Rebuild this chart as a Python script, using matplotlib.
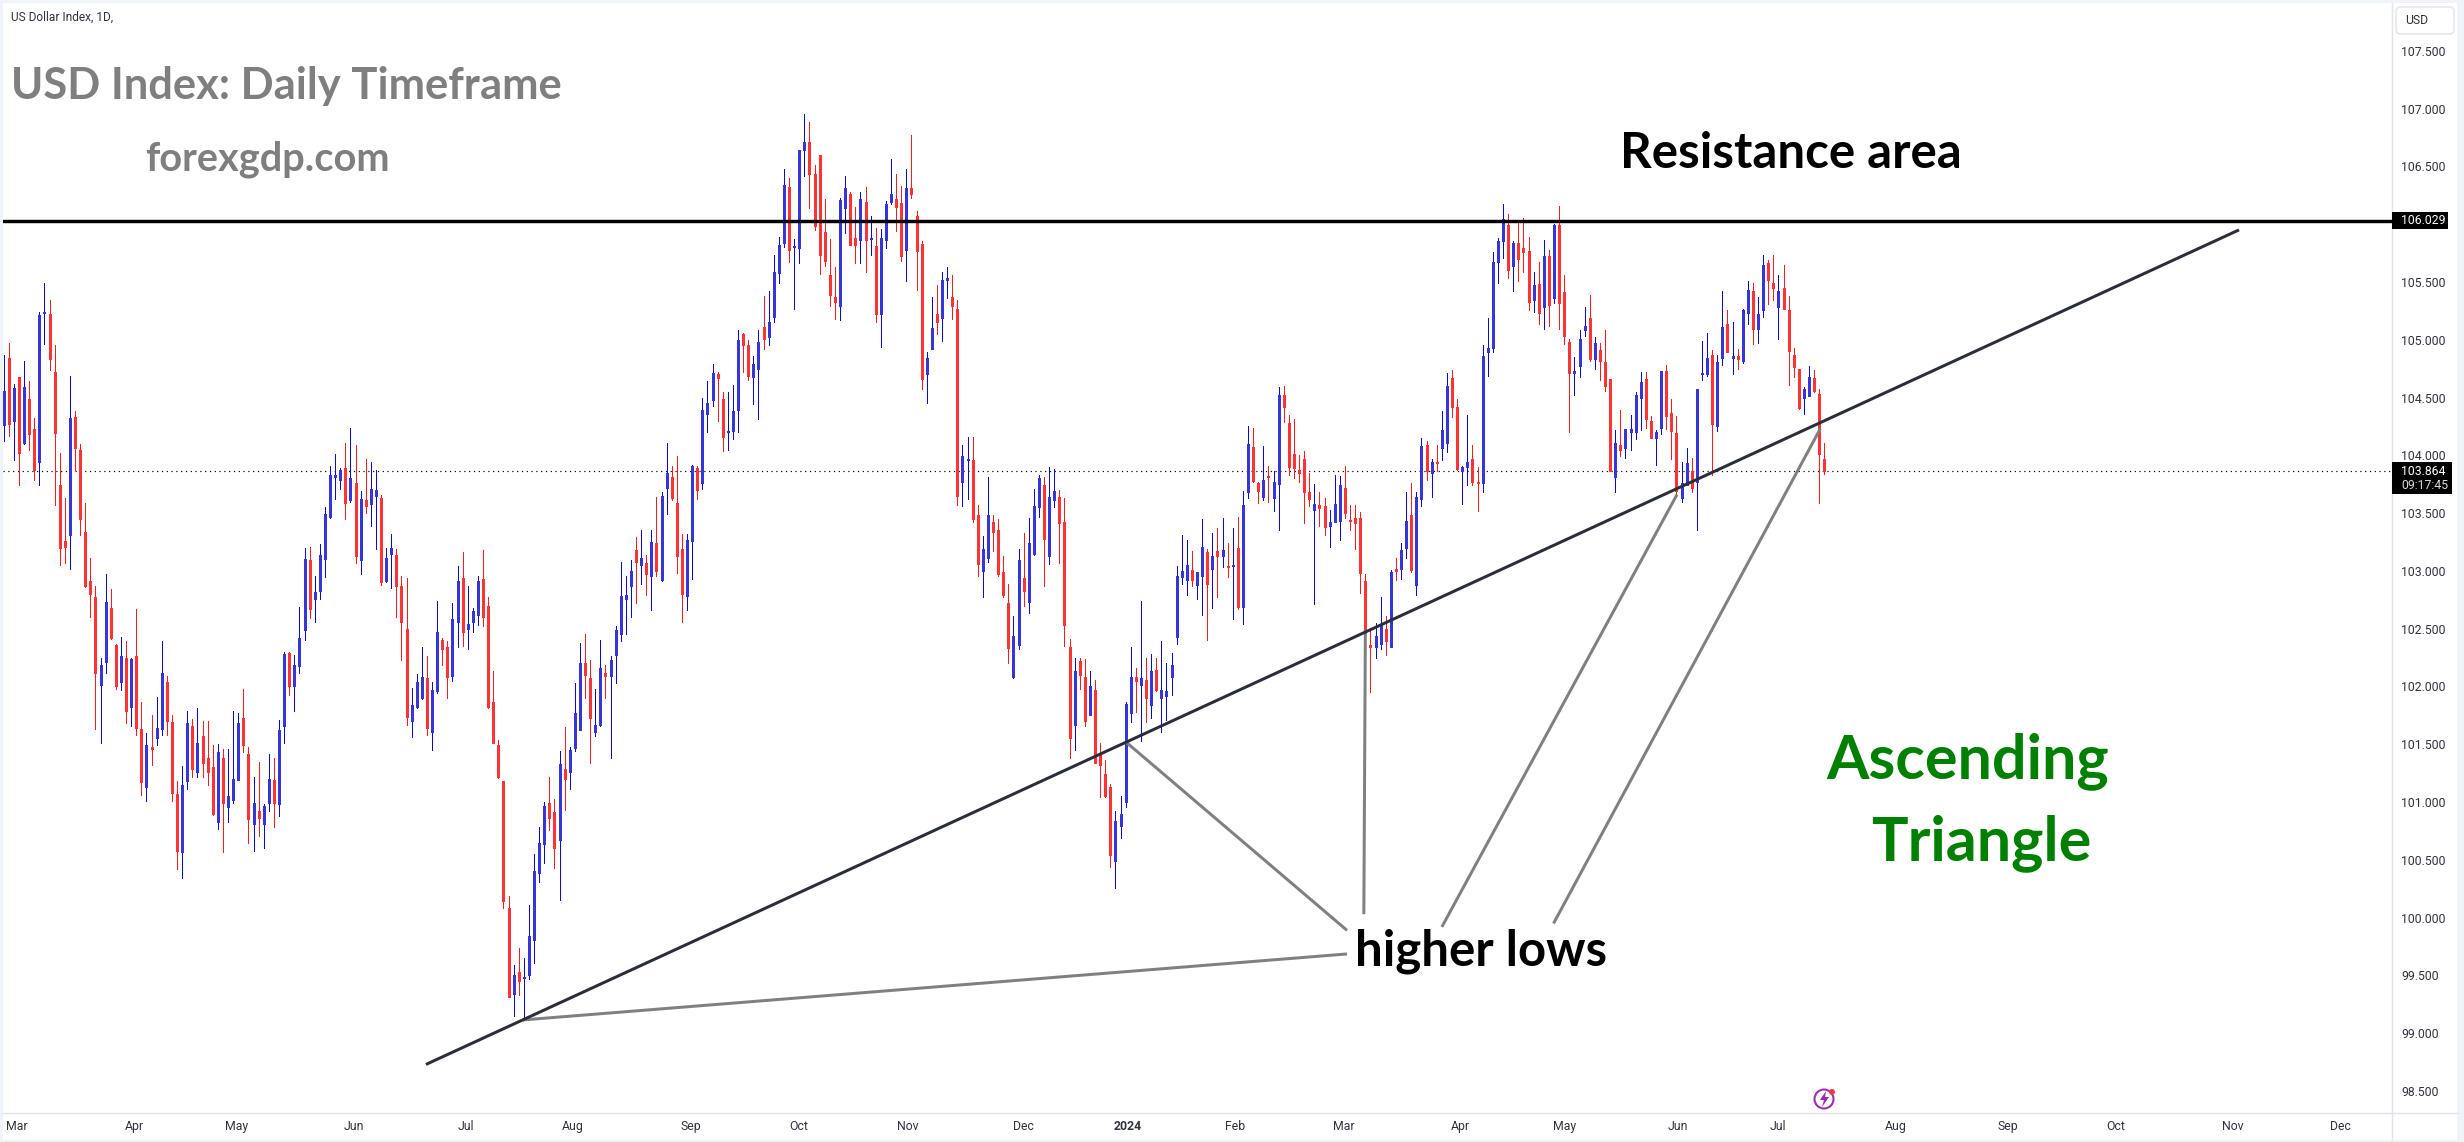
import matplotlib
matplotlib.use("Agg")
import matplotlib.pyplot as plt
import numpy as np
from matplotlib.patches import Rectangle, FancyBboxPatch, Circle, Polygon

# daily candles, one entry per session
highs = [
    104.87,104.97,104.62,104.68,104.82,104.64,104.32,105.24,105.49,105.34,
    104.95,104.02,103.63,104.69,104.38,104.10,103.59,103.11,102.87,102.25,
    102.97,102.84,102.37,102.43,102.39,102.25,102.67,101.87,101.60,101.75,
    101.91,102.39,102.09,101.75,101.18,101.31,101.79,101.72,101.81,101.70,
    101.70,101.49,101.50,101.46,101.46,101.79,101.77,101.98,101.48,101.22,
    101.35,100.98,101.42,101.38,101.71,102.30,102.30,102.27,102.69,103.20,
    103.21,102.96,103.23,103.55,103.91,104.01,103.89,104.11,104.24,104.09,
    103.69,103.97,103.94,103.87,103.66,103.20,103.32,103.19,102.96,102.94,
    101.99,102.11,102.34,102.26,102.04,102.74,102.42,102.39,102.72,103.04,
    103.16,102.87,102.68,102.96,103.18,102.77,102.13,101.54,101.18,100.19,
    99.59,99.74,99.65,100.11,100.55,100.78,101.00,101.22,101.03,101.44,
    101.65,101.48,102.03,102.38,102.45,102.23,101.98,102.40,102.19,102.26,
    102.52,103.08,102.96,103.09,103.29,103.35,103.14,103.35,103.64,103.68,
    104.11,103.91,103.99,103.32,103.32,103.92,103.91,104.50,104.64,104.79,
    104.72,104.55,104.55,104.61,105.08,105.06,105.00,104.86,105.08,105.38,
    105.42,105.73,105.89,106.48,106.40,105.87,106.64,106.95,106.88,106.51,
    106.60,106.22,105.87,105.63,106.23,106.42,106.28,106.15,106.28,106.32,
    106.07,105.97,105.96,106.20,106.56,106.43,106.33,106.48,106.77,106.11,
    105.85,104.89,105.37,105.47,105.59,105.63,105.56,105.34,104.09,104.16,
    104.16,103.57,103.30,103.81,103.48,103.45,103.13,102.89,102.61,103.19,
    103.33,103.46,103.71,103.83,103.81,103.90,103.88,103.70,103.63,102.41,
    102.25,102.25,102.24,102.13,102.06,101.51,101.36,101.16,100.92,101.05,
    101.87,102.34,102.16,102.74,102.25,102.28,102.25,102.39,102.20,102.29,
    103.04,103.31,103.27,103.17,102.99,103.45,103.19,103.33,103.37,103.46,
    103.24,103.37,103.47,103.69,104.25,104.24,103.77,104.08,103.91,103.86,
    104.59,104.60,104.35,104.31,104.00,104.04,103.85,103.75,103.68,103.63,
    103.53,103.83,103.82,103.91,103.57,103.57,103.51,102.97,102.51,102.55,
    102.77,102.61,103.01,103.11,103.24,103.68,103.76,103.68,104.15,104.12,
    103.97,104.09,104.38,104.71,104.74,104.49,103.91,104.35,104.09,103.90,
    104.95,105.19,105.76,105.88,106.17,106.09,105.85,106.03,106.05,105.89,
    105.59,105.67,105.86,105.78,106.00,106.16,105.56,105.01,104.85,105.08,
    105.28,105.39,105.02,104.97,105.08,104.66,104.22,104.39,104.23,104.35,
    104.55,104.72,104.72,104.34,104.22,104.73,104.78,104.49,104.34,103.94,
    104.06,103.98,104.57,104.99,105.06,104.91,104.87,105.42,105.26,105.15,
    104.92,105.27,105.51,105.49,105.37,105.73,105.69,105.73,105.56,105.65,
    105.38,104.93,104.75,104.59,104.77,104.74,104.57,104.11,
]
body_tops = [
    104.56,104.84,104.58,104.68,104.59,104.49,104.23,105.21,105.24,105.22,
    104.72,103.74,103.26,104.32,104.33,104.05,103.34,102.91,102.77,102.19,
    102.73,102.68,102.36,102.26,102.25,102.24,102.26,101.63,101.49,101.48,
    101.64,102.12,102.04,101.69,101.07,101.15,101.68,101.66,101.51,101.57,
    101.38,101.30,101.43,101.38,101.05,101.20,101.68,101.73,101.42,100.99,
    100.92,100.97,101.20,101.19,101.62,102.28,102.29,102.19,102.42,103.10,
    103.09,102.82,103.14,103.49,103.83,103.83,103.87,103.89,103.80,103.76,
    103.62,103.61,103.71,103.70,103.63,103.11,103.20,103.14,102.87,102.50,
    101.84,102.04,102.08,102.07,101.97,102.47,102.40,102.34,102.58,102.91,
    102.94,102.54,102.65,102.91,102.93,102.70,101.87,101.49,101.18,100.08,
    99.50,99.53,99.49,99.84,100.40,100.65,100.97,100.99,100.91,101.33,
    101.29,101.45,101.77,102.20,102.20,102.07,101.67,102.16,102.12,102.23,
    102.49,102.78,102.79,103.00,103.18,103.11,103.07,103.25,103.24,103.65,
    103.85,103.81,103.59,103.19,103.27,103.91,103.89,104.39,104.45,104.71,
    104.70,104.49,104.21,104.38,105.00,105.05,104.95,104.79,104.98,105.11,
    105.15,105.59,105.82,106.34,106.32,105.81,106.64,106.71,106.71,106.43,
    106.60,105.93,105.56,105.37,106.21,106.31,106.26,105.88,106.22,106.19,
    105.88,105.81,105.88,106.17,106.26,106.22,106.18,106.31,106.31,106.07,
    105.83,104.84,105.10,105.22,105.52,105.53,105.37,105.27,103.99,103.97,
    103.96,103.48,103.19,103.48,103.42,103.35,102.99,102.72,102.44,103.09,
    102.94,103.24,103.56,103.80,103.74,103.64,103.69,103.64,103.42,102.34,
    102.13,102.22,102.08,102.00,101.97,101.42,101.24,101.13,100.84,100.90,
    101.85,102.08,102.08,102.07,102.06,102.13,102.14,101.97,101.96,102.19,
    102.96,103.00,103.05,103.01,102.99,103.21,103.16,103.13,103.17,103.18,
    103.04,103.05,103.20,103.57,104.10,104.07,103.76,103.79,103.82,103.77,
    104.52,104.52,104.28,104.01,103.87,103.97,103.68,103.58,103.57,103.56,
    103.42,103.58,103.74,103.72,103.44,103.46,103.46,102.91,102.36,102.44,
    102.53,102.50,102.99,103.02,103.18,103.43,103.48,103.64,104.08,104.09,
    103.94,103.94,104.22,104.60,104.67,104.42,103.90,103.94,103.97,103.77,
    104.86,104.93,105.67,105.85,106.04,105.99,105.84,105.84,105.79,105.77,
    105.47,105.48,105.72,105.72,105.99,105.99,105.41,104.98,104.73,105.01,
    105.12,105.19,104.97,104.91,104.81,104.66,104.11,104.09,104.23,104.23,
    104.52,104.63,104.66,104.30,104.20,104.73,104.73,104.37,104.19,103.76,
    103.93,103.86,104.57,104.71,104.84,104.87,104.81,105.11,105.14,104.86,
    104.86,105.26,105.43,105.42,105.22,105.65,105.66,105.49,105.42,105.45,
    105.26,104.87,104.75,104.57,104.68,104.67,104.53,103.97,
]
body_bottoms = [
    104.26,104.27,104.30,104.02,104.11,104.18,103.87,103.94,105.23,104.83,
    104.19,103.20,103.21,103.31,104.06,103.45,102.87,102.80,102.12,102.01,
    102.21,102.42,102.00,102.04,101.79,101.82,101.64,101.17,101.13,101.46,
    101.55,101.63,101.70,101.08,100.58,100.57,101.18,101.29,101.26,101.34,
    101.26,100.90,100.83,100.99,100.96,101.02,101.19,101.49,100.85,100.81,
    100.86,100.81,100.99,100.99,100.98,101.66,102.00,102.00,102.18,102.49,
    102.67,102.76,102.83,103.10,103.47,103.81,103.79,103.59,103.61,103.13,
    103.09,103.56,103.58,103.65,102.90,102.91,103.15,102.87,102.56,101.74,
    101.70,101.82,101.90,101.64,101.61,101.96,102.32,102.08,102.09,102.56,
    102.47,102.50,102.56,102.62,102.60,101.82,101.51,101.22,100.14,99.31,
    99.34,99.45,99.48,99.50,99.81,100.39,100.64,100.86,100.60,100.67,
    101.20,101.26,101.47,101.62,102.10,101.73,101.61,101.67,102.09,102.09,
    102.27,102.45,102.76,102.87,103.08,103.05,102.97,102.96,103.00,102.92,
    103.72,103.63,103.13,102.80,102.78,103.26,103.70,103.76,104.36,104.48,
    104.67,104.16,104.20,104.21,104.39,104.95,104.69,104.68,104.75,105.01,
    105.02,105.20,105.58,105.84,105.78,105.80,105.79,106.64,106.43,105.98,
    105.73,105.68,105.39,105.33,105.29,106.14,105.82,105.82,105.86,105.86,
    105.87,105.22,105.22,105.86,106.19,106.15,105.72,105.78,106.26,105.77,
    104.66,104.70,104.92,105.15,105.19,105.52,105.29,103.65,103.77,103.96,
    103.45,103.06,103.00,103.11,103.34,102.97,102.79,102.33,102.08,102.36,
    102.83,102.73,103.15,103.55,103.28,103.13,103.61,103.41,102.53,101.55,
    101.67,102.10,101.70,101.75,101.34,101.32,101.05,100.54,100.49,100.79,
    101.00,101.77,102.05,102.01,101.90,101.84,101.97,101.90,101.92,102.08,
    102.43,102.95,102.92,102.92,102.88,102.96,102.89,103.02,103.13,103.13,
    103.03,103.04,102.69,102.69,103.68,103.78,103.69,103.64,103.81,103.63,
    103.75,104.42,103.90,103.89,103.85,103.68,103.62,103.53,103.54,103.38,
    103.39,103.42,103.43,103.50,103.43,103.41,102.98,102.49,102.34,102.34,
    102.37,102.39,102.34,103.00,103.02,103.20,103.01,102.88,103.62,103.86,
    103.85,103.93,104.06,104.11,104.42,103.88,103.86,103.90,103.77,103.76,
    103.76,104.89,104.93,105.67,105.85,105.60,105.64,105.70,105.76,105.33,
    105.34,105.23,105.28,105.30,105.36,105.32,105.03,104.71,104.71,104.77,
    105.08,104.83,104.83,104.82,104.60,103.86,103.81,104.05,104.06,104.20,
    104.20,104.50,104.31,104.15,104.15,104.24,104.34,104.21,103.69,103.63,
    103.74,103.72,103.77,104.70,104.70,104.27,104.25,104.84,104.89,104.84,
    104.83,104.82,105.23,105.09,105.09,105.26,105.52,105.45,105.28,105.27,
    104.90,104.76,104.41,104.50,104.51,104.56,104.01,103.864,
]
lows = [
    104.12,104.17,103.96,103.74,104.10,104.05,103.79,103.74,104.96,104.74,
    103.57,103.05,103.07,103.02,103.87,103.31,102.86,102.60,101.63,101.51,
    102.12,102.41,101.98,101.97,101.68,101.66,101.58,101.06,101.01,101.32,
    101.49,101.58,101.58,101.01,100.42,100.34,101.11,101.22,101.22,101.22,
    101.15,100.89,100.77,100.57,100.83,100.99,101.19,101.43,100.65,100.58,
    100.71,100.60,100.92,100.78,100.88,101.51,101.93,101.79,102.12,102.40,
    102.59,102.56,102.76,102.95,103.46,103.62,103.71,103.45,103.60,103.07,
    102.97,103.50,103.39,103.19,102.88,102.90,102.85,102.60,102.23,101.67,
    101.56,101.81,101.89,101.58,101.45,101.94,102.19,101.90,102.05,102.34,
    102.35,102.32,102.47,102.53,102.52,101.81,101.51,101.21,100.08,99.31,
    99.15,99.33,99.13,99.47,99.61,100.31,100.47,100.76,100.43,100.15,
    100.93,101.11,101.44,101.62,101.90,101.34,101.57,101.66,101.90,101.38,
    102.03,102.39,102.45,102.60,102.72,102.89,102.79,102.66,102.96,102.91,
    103.49,103.61,102.98,102.56,102.66,102.93,103.62,103.71,104.20,104.43,
    104.30,104.04,104.05,104.14,104.20,104.72,104.65,104.44,104.31,104.92,
    104.95,105.15,105.49,105.80,105.67,105.27,105.66,106.42,106.14,105.95,
    105.57,105.64,105.29,105.18,105.17,105.92,105.82,105.66,105.66,105.59,
    105.73,105.15,104.94,105.79,106.17,105.94,105.68,105.51,106.23,105.43,
    104.57,104.45,104.92,105.05,104.99,105.36,105.18,103.57,103.56,103.62,
    103.42,102.96,102.77,103.08,103.17,102.96,102.77,102.20,102.07,102.32,
    102.70,102.64,103.14,103.47,102.87,103.06,103.55,103.07,102.35,101.38,
    101.45,101.98,101.66,101.75,101.34,101.04,101.04,100.44,100.26,100.69,
    100.96,101.69,101.78,101.53,101.69,101.73,101.96,101.61,101.71,101.93,
    102.37,102.89,102.79,102.87,102.76,102.62,102.40,102.68,102.77,103.03,
    102.95,102.58,102.67,102.54,103.63,103.77,103.59,103.61,103.60,103.52,
    103.35,104.29,103.83,103.80,103.77,103.41,103.56,102.71,103.39,103.31,
    103.21,103.42,103.27,103.46,103.35,103.19,102.81,102.48,101.95,102.25,
    102.32,102.27,102.34,102.92,102.93,103.11,102.99,102.79,103.56,103.79,
    103.64,103.86,103.96,104.03,104.33,103.87,103.58,103.74,103.74,103.52,
    103.68,104.69,104.89,105.49,105.71,105.53,105.42,105.51,105.59,105.26,
    105.24,105.14,105.09,105.12,105.32,105.09,104.96,104.20,104.52,104.68,
    105.03,104.82,104.75,104.65,104.56,103.86,103.68,103.99,103.98,104.05,
    104.14,104.22,104.24,104.15,103.92,104.18,104.23,103.97,103.66,103.60,
    103.74,103.68,103.35,104.65,104.69,103.83,104.21,104.78,104.89,104.70,
    104.75,104.80,105.14,104.96,104.97,105.20,105.31,105.34,105.01,105.27,
    104.61,104.68,104.40,104.36,104.51,104.55,103.59,103.84,
]
# True where the session closed above its open
rising = [
    1,0,1,0,1,0,0,1,1,0,
    0,0,0,1,0,0,0,0,0,1,
    1,0,0,1,0,1,0,0,1,0,
    1,1,0,0,0,1,1,0,1,0,
    0,0,1,0,1,1,1,0,0,1,
    0,1,1,0,1,1,0,1,1,1,
    0,1,1,1,1,1,1,0,1,0,
    1,0,1,1,0,1,1,0,0,0,
    1,1,1,0,1,1,0,0,1,1,
    0,1,1,1,0,0,0,0,0,0,
    1,0,1,1,1,1,1,0,0,1,
    0,1,1,1,0,0,1,1,0,1,
    1,1,1,1,0,1,0,1,0,1,
    1,0,0,0,1,1,0,1,1,1,
    0,0,1,1,1,0,0,1,1,0,
    1,1,1,1,0,1,1,1,0,0,
    0,0,0,0,1,1,0,0,1,0,
    1,0,1,1,1,0,0,1,0,0,
    0,1,1,0,1,1,0,0,1,1,
    0,0,1,1,0,0,0,0,1,1,
    0,1,1,1,0,1,1,0,0,0,
    1,0,0,1,0,0,0,0,1,1,
    1,1,0,1,0,1,0,1,1,1,
    1,1,1,0,1,1,0,1,0,1,
    0,1,0,1,1,0,0,1,0,1,
    1,0,0,0,0,0,0,1,0,0,
    1,1,1,0,0,0,0,0,0,1,
    1,0,1,0,1,1,0,1,1,0,
    1,0,1,1,0,0,1,1,0,0,
    1,1,1,1,1,0,1,0,0,0,
    1,0,1,0,1,0,0,0,1,1,
    1,0,1,0,0,0,1,0,1,1,
    1,1,0,0,1,1,0,0,0,1,
    1,0,1,1,1,0,1,1,0,1,
    0,1,1,0,1,1,0,0,1,0,
    0,0,0,1,1,0,0,0,
]

price_ticks = [107.5, 107, 106.5, 105.5, 105, 104.5, 104, 103.5, 103, 102.5,
               102, 101.5, 101, 100.5, 100, 99.5, 99, 98.5]
month_pos = [2.6, 25.6, 45.6, 68.7, 90.7, 111.6, 134.8, 155.8, 177.3, 199.9, 220.3,
             241.5, 262.8, 285.6, 306, 328.3, 347.9, 371, 393, 414.2, 437.1, 458.1]
month_labels = ["Mar", "Apr", "May", "Jun", "Jul", "Aug", "Sep", "Oct", "Nov", "Dec", "2024",
                "Feb", "Mar", "Apr", "May", "Jun", "Jul", "Aug", "Sep", "Oct", "Nov", "Dec"]

resistance = 106.029
countdown = "09:17:45"
trend_x = [82.8, 438.3]
trend_y = [98.73, 105.95]
# pointers from the "higher lows" label to the touches of the trend line
pointers = [
    ([101.8, 263.4], [99.115, 99.686]),
    ([220.2, 263.4], [101.514, 99.89]),
    ([267.0, 266.7], [102.49, 100.03]),
    ([328.1, 282.0], [103.66, 99.92]),
    ([356.2, 303.9], [104.23, 99.95]),
]

UP_BODY, UP_WICK = "#3535dc", "#0a0ad6"
DOWN_BODY, DOWN_WICK = "#ff3333", "#f41c1c"
FRAME = "#f0f3fa"
BORDER = "#e0e3eb"
W, H = 2464, 1142
px = 0.72  # one pixel in points at dpi 100

plt.rcParams["font.family"] = ["Roboto", "DejaVu Sans"]
fig = plt.figure(figsize=(W / 100, H / 100), dpi=100, facecolor=FRAME)
fig.add_artist(Rectangle((3 / W, 1 - 1140 / H), 2454 / W, 1137 / H, transform=fig.transFigure,
                         facecolor="white", edgecolor="none", zorder=-1))

ax = fig.add_axes([3 / W, 1 - 1113 / H, 2389 / W, 1110 / H], facecolor="white")
ax.set_xlim(-0.13, 468.3)
ax.set_ylim(98.31, 107.913)

idx = np.arange(len(highs))
up = np.array(rising, dtype=bool)

ax.vlines(idx, lows, highs, colors=[UP_WICK if u else DOWN_WICK for u in up], lw=1 * px,
          antialiased=False, zorder=2)
# thick butt-capped segments keep every body the same width
ax.vlines(idx, body_bottoms, body_tops, colors=[UP_BODY if u else DOWN_BODY for u in up], lw=3 * px,
          capstyle="butt", antialiased=False, zorder=3)

ax.axhline(body_bottoms[-1], color="black", lw=1.2 * px, ls=(0, (1, 3)), dash_capstyle="butt", zorder=1)
ax.axhline(resistance, color="black", lw=3.4 * px, zorder=5)
ax.plot(trend_x, trend_y, color="#2a2e39", lw=3 * px, solid_capstyle="butt", zorder=5)
for xs, ys in pointers:
    ax.plot(xs, ys, color="#808080", lw=3 * px, solid_capstyle="butt", zorder=4)

ax.yaxis.tick_right()
ax.set_yticks(price_ticks, [f"{t:.3f}" for t in price_ticks])
ax.set_xticks(month_pos, month_labels)
ax.tick_params(axis="y", length=0, pad=6.5, labelsize=8.8, labelcolor="#2f3340")
ax.tick_params(axis="x", length=0, pad=5, labelsize=8.8, labelcolor="#2f3340")
for lab in ax.get_xticklabels():
    if lab.get_text() == "2024":
        lab.set_fontweight("bold")
for side in ("top", "left"):
    ax.spines[side].set_visible(False)
for side in ("right", "bottom"):
    ax.spines[side].set_color(BORDER)
    ax.spines[side].set_linewidth(1.4 * px)

# price tags on the axis
axis_tf = ax.get_yaxis_transform()
frac = 1 / 2389
ax.add_patch(Rectangle((1, resistance - 0.072), 56 * frac, 0.144, transform=axis_tf, facecolor="black",
                       edgecolor="none", clip_on=False, zorder=6))
ax.text(1 + 9 * frac, resistance, f"{resistance:.3f}", transform=axis_tf, color="white", fontsize=8.8,
        va="center", ha="left", clip_on=False, zorder=7)
ax.add_patch(Rectangle((1, body_bottoms[-1] - 0.2), 60 * frac, 0.28, transform=axis_tf, facecolor="black",
                       edgecolor="none", clip_on=False, zorder=6))
ax.text(1 + 9 * frac, body_bottoms[-1], f"{body_bottoms[-1]:.3f}", transform=axis_tf, color="white",
        fontsize=8.8, va="center", ha="left", clip_on=False, zorder=7)
ax.text(1 + 9 * frac, body_bottoms[-1] - 0.125, countdown, transform=axis_tf, color="#d8d8d8",
        fontsize=8.8, va="center", ha="left", clip_on=False, zorder=7)

# everything below is placed in figure pixels
over = fig.add_axes([0, 0, 1, 1], facecolor="none")
over.set_xlim(0, W)
over.set_ylim(H, 0)
over.axis("off")
over.plot([2392, 2392], [1113, 1140], color=BORDER, lw=1.4 * px)
over.plot([2392, 2457], [1113, 1113], color=BORDER, lw=1.4 * px)
over.add_patch(FancyBboxPatch((2399, 10), 52, 21, boxstyle="round,pad=3,rounding_size=5",
                              facecolor="white", edgecolor=BORDER, lw=1.4 * px))
over.text(2405, 21, "USD", fontsize=8.8, color="#2f3340", va="center", ha="left")
over.text(11, 17, "US Dollar Index, 1D,", fontsize=8.6, color="#2f3340", va="center", ha="left")

over.text(11, 99, "USD Index: Daily Timeframe", family="Lato", weight="bold", fontsize=31.3,
          color="#7f7f7f", ha="left", va="baseline")
over.text(145, 171, "forexgdp.com", family="Lato", weight="bold", fontsize=28.6,
          color="#7f7f7f", ha="left", va="baseline")
over.text(1620, 168, "Resistance area", family="Lato", weight="bold", fontsize=35.5,
          color="black", ha="left", va="baseline")
over.text(1355, 965, "higher lows", family="Lato", weight="bold", fontsize=35.4,
          color="black", ha="left", va="baseline")
over.text(1826, 778, "Ascending", family="Lato", weight="bold", fontsize=44,
          color="#008000", ha="left", va="baseline")
over.text(1871, 860, "Triangle", family="Lato", weight="bold", fontsize=44,
          color="#008000", ha="left", va="baseline")

# small alert badge under the last candle
over.add_patch(Circle((1824, 1099), 9.5, facecolor="none", edgecolor="#9c27b0", lw=2 * px))
over.add_patch(Polygon([(1826, 1091), (1820, 1100), (1824, 1100), (1822, 1107), (1829, 1097), (1825, 1097)],
                       facecolor="#9c27b0", edgecolor="none"))
over.add_patch(Circle((1832, 1092), 3, facecolor="#f23645", edgecolor="none"))

fig.savefig("out.png", dpi=100, facecolor=FRAME)
